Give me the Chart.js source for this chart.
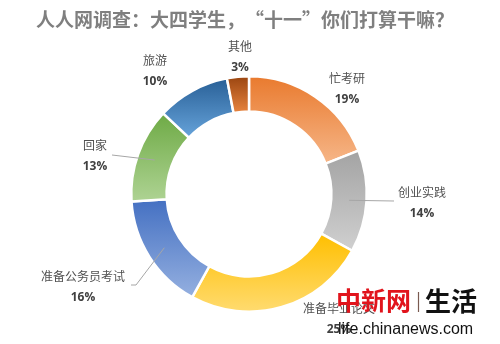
<!DOCTYPE html>
<html>
<head>
<meta charset="utf-8">
<script src="https://cdn.jsdelivr.net/npm/chart.js@4"></script>
<style>
html,body{margin:0;padding:0;background:#fff;}
#wrap{width:500px;height:344px;position:relative;}
</style>
</head>
<body>
<div id="wrap"><canvas id="c" width="500" height="344"></canvas></div>
<script>
// ---- data ----
const titleText = '人人网调查：大四学生，“十一”你们打算干嘛？';
const categories = ['忙考研', '创业实践', '准备毕业论文', '准备公务员考试', '回家', '旅游', '其他'];
const values = [19, 14, 25, 16, 13, 10, 3];

// ---- styles / layout ----
const colorTop = ['#E97A2E', '#A3A3A3', '#FFBF00', '#4470C2', '#6EAA45', '#285F96', '#9A4510'];
const colorBot = ['#F6B688', '#D0D0D0', '#FFDB70', '#95B0E0', '#AED393', '#66A3DA', '#E8843F'];
// label name position relative to doughnut centre (percentage line is drawn 22px lower)
const labelOffsets = [[98, -116], [173, -2], [90, 114], [-166, 82], [-154, -49], [-94, -134], [-9, -148]];
// leader line start points relative to centre (null = no leader)
const leaderStarts = [null, [[145, 7]], null, [[-118, 91], [-113, 91]], [[-137, -39]], null, null];
const CUTOUT = 0.70;

const total = values.reduce((a, b) => a + b, 0);

function geom(chart) {
  const ca = chart.chartArea;
  const cx = (ca.left + ca.right) / 2, cy = (ca.top + ca.bottom) / 2;
  const R = (Math.min(ca.width, ca.height) - 2) / 2;
  return {cx, cy, R, r: R * CUTOUT};
}
function fracRange(i) {
  let s = 0;
  for (let k = 0; k < i; k++) s += values[k];
  return [s / total, (s + values[i]) / total];
}

function sliceFill(ctx) {
  const chart = ctx.chart;
  const i = ctx.dataIndex;
  if (!chart.chartArea || i === undefined) return colorTop[i] || '#ccc';
  const g = geom(chart);
  const [f0, f1] = fracRange(i);
  const ys = [];
  [f0, f1].forEach(f => {
    const a = -Math.PI / 2 + f * 2 * Math.PI;
    ys.push(g.cy + g.R * Math.sin(a), g.cy + g.r * Math.sin(a));
  });
  if (f0 <= 0 || f1 >= 1) ys.push(g.cy - g.R);
  if (f0 <= 0.5 && f1 >= 0.5) ys.push(g.cy + g.R);
  const y0 = Math.min(...ys), y1 = Math.max(...ys);
  const grd = chart.ctx.createLinearGradient(0, y0, 0, y1);
  grd.addColorStop(0, colorTop[i]);
  grd.addColorStop(1, colorBot[i]);
  return grd;
}

const overlay = {
  id: 'overlay',
  afterDraw(chart) {
    const c = chart.ctx;
    const g = geom(chart);
    c.save();
    // title
    c.fillStyle = '#7F7F7F';
    c.font = 'bold 19px "Noto Sans CJK SC"';
    c.textAlign = 'center';
    c.textBaseline = 'middle';
    c.fillText(titleText, 245, 20);

    // leader lines
    c.strokeStyle = '#A6A6A6';
    c.lineWidth = 1;
    categories.forEach((name, i) => {
      const pts = leaderStarts[i];
      if (!pts) return;
      const [f0, f1] = fracRange(i);
      const a = -Math.PI / 2 + (f0 + f1) * Math.PI;
      const rm = (g.R + g.r) / 2;
      c.beginPath();
      c.moveTo(g.cx + pts[0][0], g.cy + pts[0][1]);
      for (let k = 1; k < pts.length; k++) c.lineTo(g.cx + pts[k][0], g.cy + pts[k][1]);
      c.lineTo(g.cx + rm * Math.cos(a), g.cy + rm * Math.sin(a));
      c.stroke();
    });

    // labels
    categories.forEach((name, i) => {
      const [dx, dy] = labelOffsets[i];
      const x = g.cx + dx, y = g.cy + dy;
      c.textAlign = 'center';
      c.textBaseline = 'middle';
      c.fillStyle = '#505050';
      c.font = '12px "Noto Sans CJK SC"';
      c.fillText(name, x, y);
      c.fillStyle = '#404040';
      c.font = 'bold 12px "Open Sans"';
      c.fillText(values[i] + '%', x, y + 22);
    });

    // watermark
    c.textBaseline = 'alphabetic';
    c.textAlign = 'left';
    c.fillStyle = '#E1141C';
    c.font = 'bold 25px "Noto Sans CJK SC"';
    c.fillText('中新网', 336, 310);
    c.strokeStyle = '#7A5A50';
    c.lineWidth = 1.2;
    c.beginPath(); c.moveTo(418.5, 292); c.lineTo(418.5, 312); c.stroke();
    c.fillStyle = '#111111';
    c.font = 'bold 26px "Noto Sans CJK SC"';
    c.fillText('生活', 425, 311);
    c.font = '16px "Liberation Sans"';
    c.fillText('life.chinanews.com', 338, 334, 140);
    c.restore();
  }
};

const chart = new Chart(document.getElementById('c'), {
  type: 'doughnut',
  data: {
    labels: categories,
    datasets: [{
      data: values,
      backgroundColor: sliceFill,
      hoverBackgroundColor: sliceFill,
      borderColor: '#FFFFFF',
      borderWidth: 2.5
    }]
  },
  options: {
    responsive: false,
    animation: false,
    cutout: (CUTOUT * 100) + '%',
    layout: {padding: {top: 75, bottom: 31, left: 0, right: 2}},
    plugins: {legend: {display: false}, tooltip: {enabled: false}, title: {display: false}}
  },
  plugins: [overlay]
});
</script>
</body>
</html>
